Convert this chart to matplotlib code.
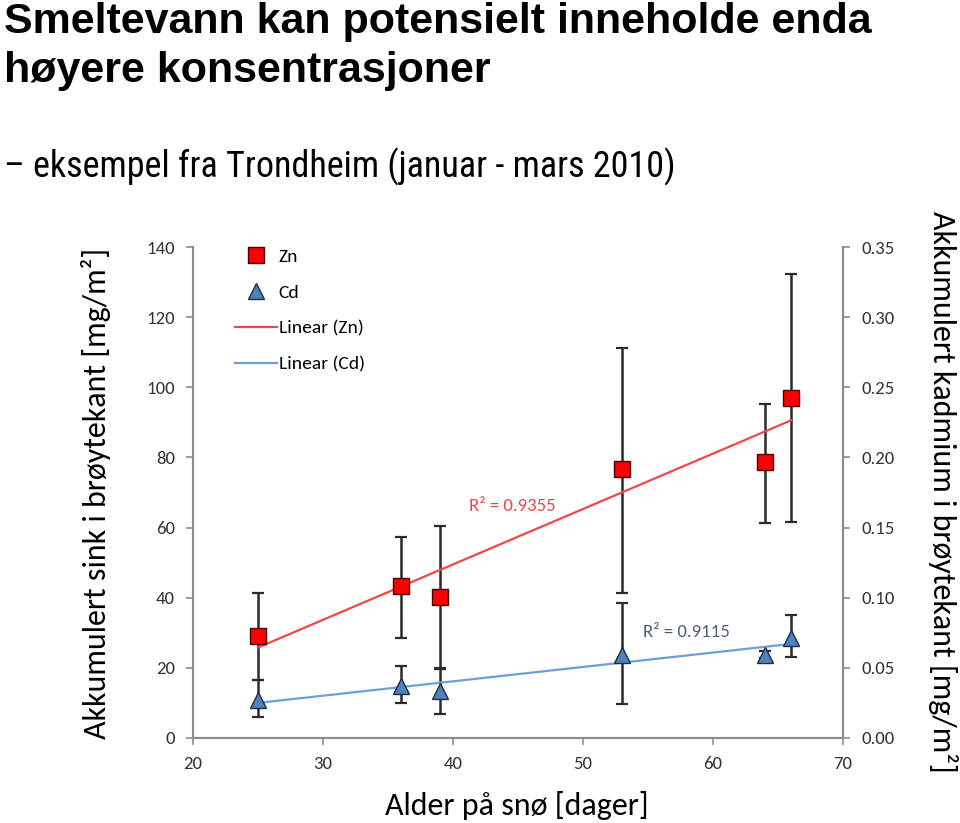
import numpy as np
import matplotlib
matplotlib.use('Agg')
import matplotlib.pyplot as plt
from matplotlib.lines import Line2D

# ---- data ----
days = [25, 36, 39, 53, 64, 66]
zn = [29.0, 43.4, 40.3, 76.6, 78.6, 97.0]
zn_low = [16.6, 28.5, 20.0, 41.3, 61.2, 61.5]
zn_high = [41.4, 57.3, 60.4, 111.3, 95.3, 132.3]
cd = [0.027, 0.037, 0.0335, 0.059, 0.059, 0.071]
cd_low = [0.015, 0.025, 0.017, 0.024, 0.057, 0.0575]
cd_high = [0.041, 0.051, 0.049, 0.096, 0.062, 0.088]
x_ticks = [20, 30, 40, 50, 60, 70]
zn_ticks = [0, 20, 40, 60, 80, 100, 120, 140]
cd_ticks = [0.00, 0.05, 0.10, 0.15, 0.20, 0.25, 0.30, 0.35]
r2_zn = "R² = 0.9355"
r2_cd = "R² = 0.9115"

W, H = 960, 823
fig = plt.figure(figsize=(W / 100, H / 100), dpi=100)
fig.patch.set_facecolor('white')

def fx(px):
    return px / W

def fy(py):
    return 1 - py / H

ax = fig.add_axes([fx(193), fy(738), (843 - 193) / W, (738 - 247) / H])
ax2 = ax.twinx()
ax.set_xlim(20, 70)
ax.set_ylim(0, 140)
ax2.set_ylim(0, 0.35)
ax.set_xticks(x_ticks)
ax.set_yticks(zn_ticks)
ax2.set_yticks(cd_ticks)
ax2.set_yticklabels([f"{v:.2f}" for v in cd_ticks])

tick_font = 'Carlito'
spine_c = '#8c8c8c'
for a in (ax, ax2):
    a.spines['top'].set_visible(False)
    for s in ('left', 'right', 'bottom'):
        a.spines[s].set_color(spine_c)
        a.spines[s].set_linewidth(1.5)
    a.tick_params(direction='out', length=5, width=1.2, color=spine_c,
                  labelsize=13.5, labelcolor='#333333')
    for lab in a.get_xticklabels() + a.get_yticklabels():
        lab.set_fontfamily(tick_font)
ax.tick_params(axis='x', pad=8)
ax.tick_params(axis='y', pad=8)
ax2.tick_params(axis='y', pad=8)

err_c = '#2b2b2b'
red = '#ff0000'
blue = '#4f81bd'
red_line = '#ee4848'
blue_line = '#6f9fd8'

# Zn
ax.errorbar(days, zn, yerr=[np.subtract(zn, zn_low), np.subtract(zn_high, zn)],
            fmt='none', ecolor=err_c, elinewidth=1.8, capsize=4.5, capthick=1.6, zorder=2)
cz = np.polyfit(days, zn, 1)
xs = np.array([days[0], days[-1]])
ax.plot(xs, np.polyval(cz, xs), color=red_line, lw=1.6, zorder=3)
ax.plot(days, zn, 's', ms=12, mfc=red, mec='#4a0000', mew=1.0, zorder=4)
ax.text(41.2, 66.2, r2_zn, color='#e8474a', fontsize=13.5, fontfamily=tick_font,
        va='center', ha='left')
ax.text(54.6, 30.2, r2_cd, color='#4f5f78', fontsize=13.5, fontfamily=tick_font,
        va='center', ha='left')

# Cd
ax2.errorbar(days, cd, yerr=[np.subtract(cd, cd_low), np.subtract(cd_high, cd)],
             fmt='none', ecolor=err_c, elinewidth=1.8, capsize=4.5, capthick=1.6, zorder=2)
cc = np.polyfit(days, cd, 1)
ax2.plot(xs, np.polyval(cc, xs), color=blue_line, lw=1.6, zorder=3)
ax2.plot(days, cd, '^', ms=12, mfc=blue, mec='#1c2e48', mew=1.0, zorder=4)

handles = [
    Line2D([], [], marker='s', ls='none', ms=11, mfc=red, mec='#4a0000', mew=1.0),
    Line2D([], [], marker='^', ls='none', ms=11, mfc=blue, mec='#1c2e48', mew=1.0),
    Line2D([], [], color=red_line, lw=1.6),
    Line2D([], [], color=blue_line, lw=1.6),
]
leg = ax2.legend(handles, ['Zn', 'Cd', 'Linear (Zn)', 'Linear (Cd)'],
                 loc='upper left', bbox_to_anchor=(fx(235), fy(248)),
                 bbox_transform=fig.transFigure, frameon=False,
                 borderpad=0, borderaxespad=0, handlelength=2.15,
                 handletextpad=0.1, labelspacing=1.0,
                 prop={'family': tick_font, 'size': 14})

# Titles
fig.text(fx(4), fy(33), "Smeltevann kan potensielt inneholde enda",
         fontsize=31, fontweight='bold', family='Liberation Sans', va='baseline', ha='left')
fig.text(fx(4), fy(82), "høyere konsentrasjoner",
         fontsize=31, fontweight='bold', family='Liberation Sans', va='baseline', ha='left')
fig.text(fx(4), fy(177), "– eksempel fra Trondheim (januar - mars 2010)",
         fontsize=26, family=['Roboto Condensed', 'Liberation Sans'],
         va='baseline', ha='left')

lab_font = 'Carlito'
fig.text(fx(96), fy(493), "Akkumulert sink i brøytekant [mg/m²]", rotation=90,
         fontsize=23, family=lab_font, va='center', ha='center')
fig.text(fx(943), fy(492), "Akkumulert kadmium i brøytekant [mg/m²]", rotation=270,
         fontsize=23, family=lab_font, va='center', ha='center')
fig.text(fx(517), fy(805), "Alder på snø [dager]", fontsize=23, family=lab_font,
         va='center', ha='center')

fig.savefig('out.png', dpi=100)
